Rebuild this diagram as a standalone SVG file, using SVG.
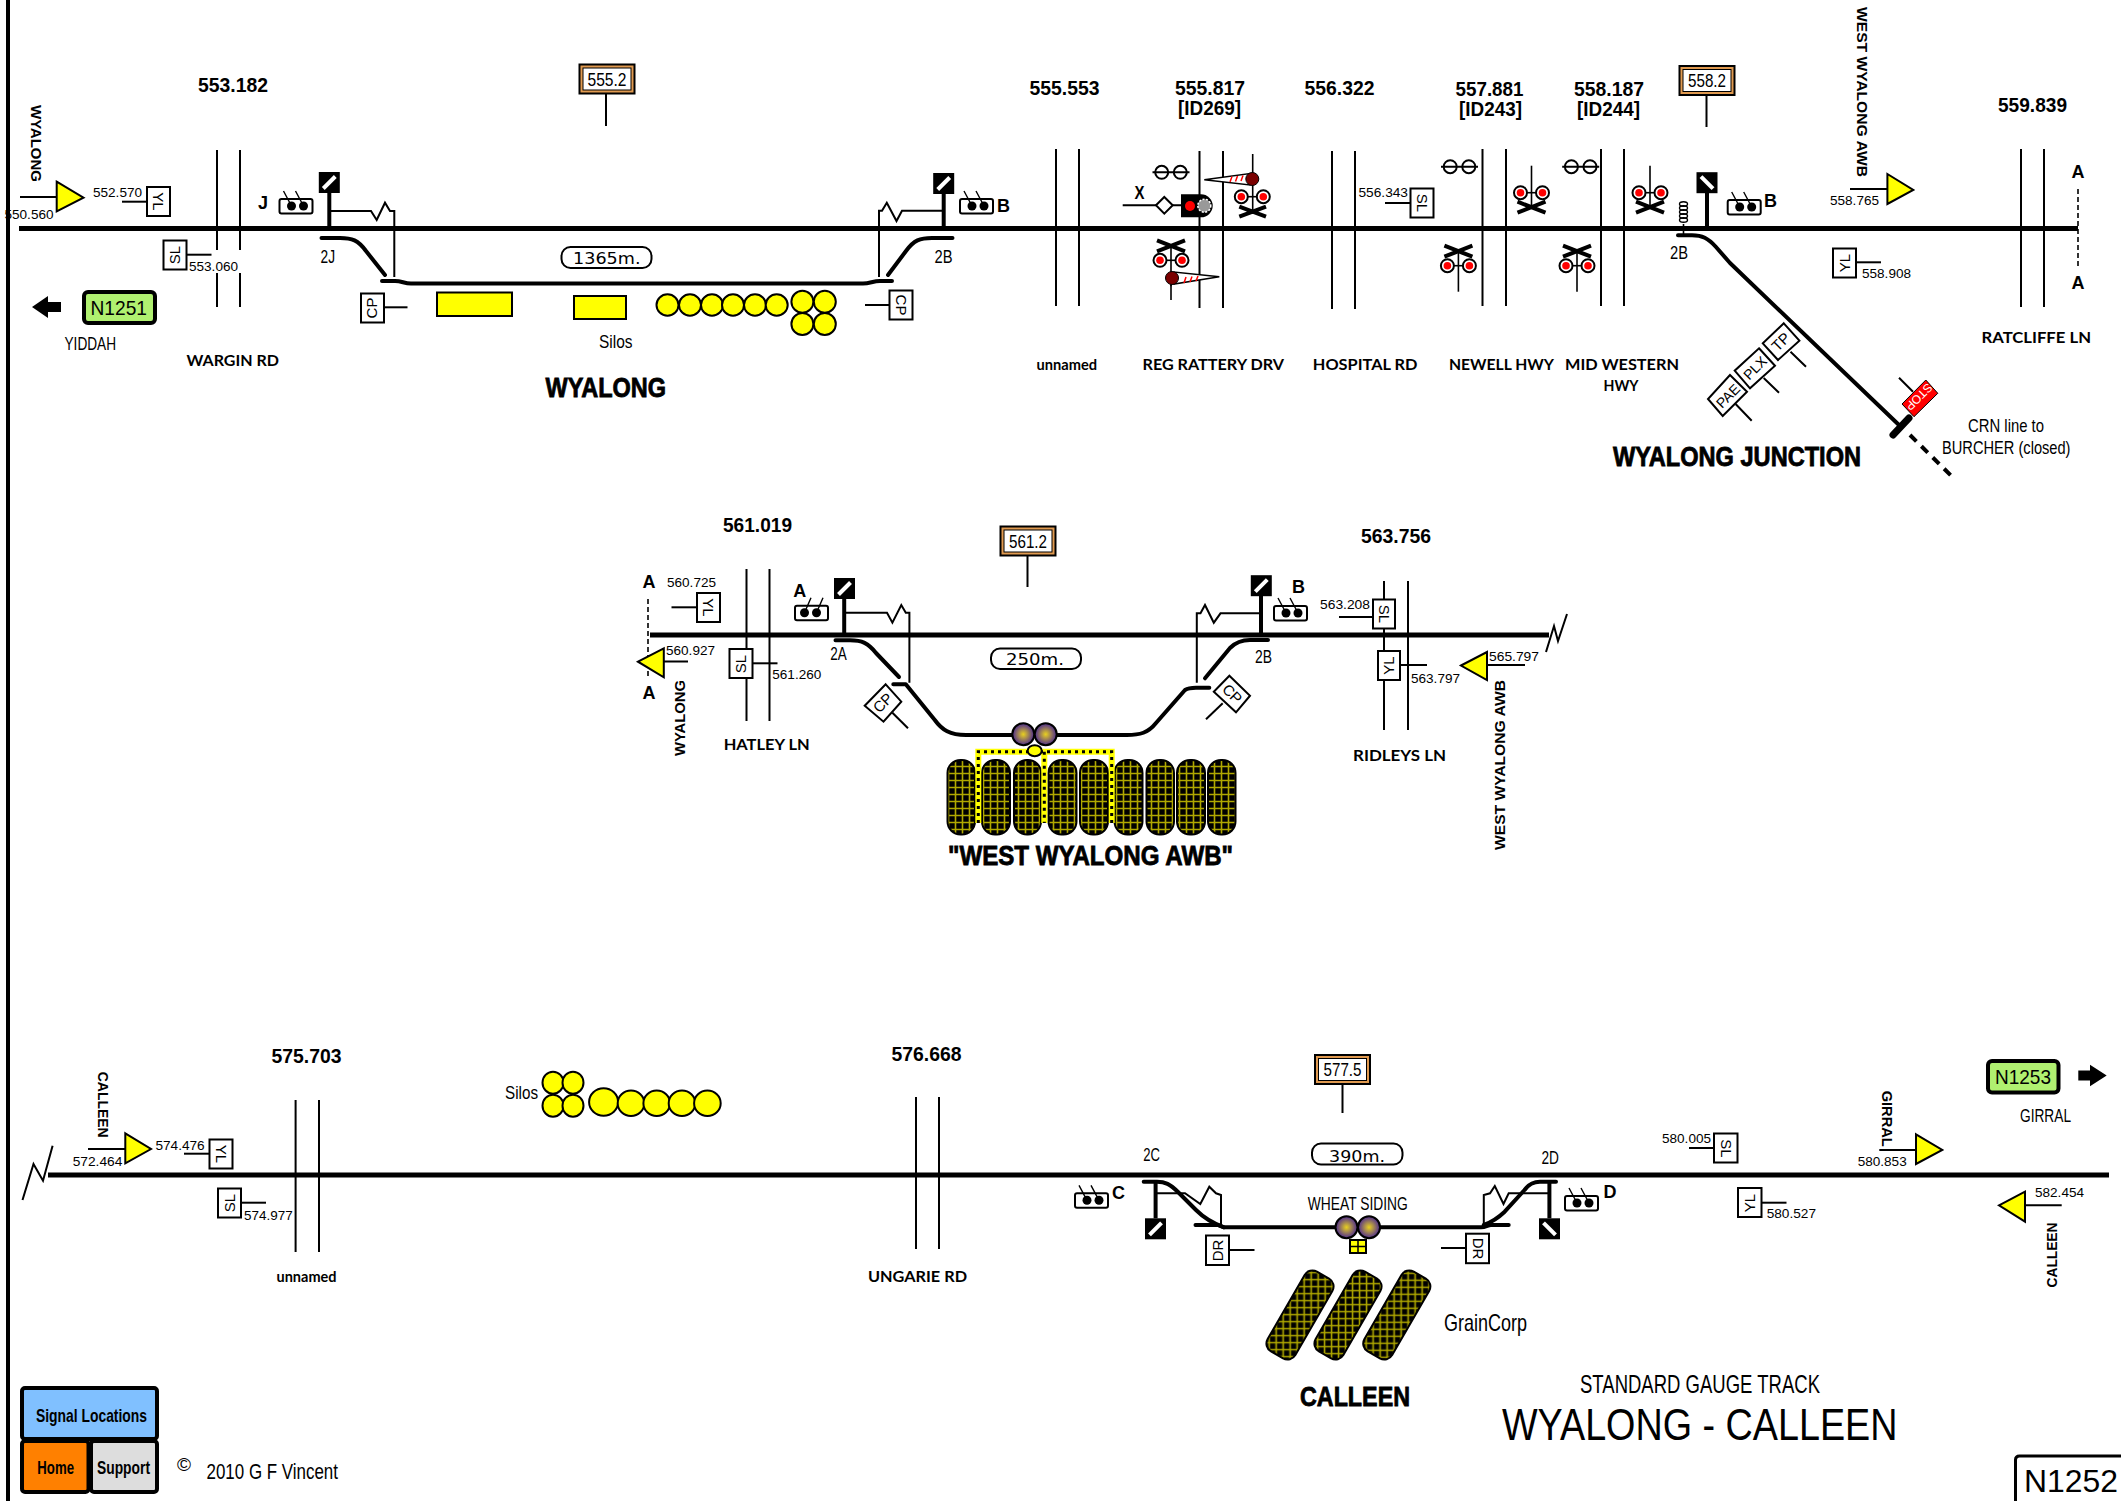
<svg xmlns="http://www.w3.org/2000/svg" xmlns:xlink="http://www.w3.org/1999/xlink" width="2121" height="1501" viewBox="0 0 2121 1501">
<style>
text{fill:#000;font-family:"Liberation Sans",Arial,sans-serif}
.n{font-family:"Liberation Sans Narrow","Liberation Sans",sans-serif;font-size:19px}
.km{font-size:19.4px;font-weight:700}
.s{font-size:13.5px}
.c{font-family:Lato,"Liberation Sans",sans-serif;font-weight:700;font-size:16px}
.v{font-size:15px;font-weight:700;text-anchor:middle}
.h{font-size:27px;font-weight:700;stroke:#000;stroke-width:.8}
.lb{font-size:15px;text-anchor:middle}
.w{font-family:"DejaVu Sans",sans-serif;font-size:15px}
.sb{font-weight:700;font-size:18px}
.trk{fill:none;stroke:#000;stroke-width:5}
.cv{fill:none;stroke:#000;stroke-width:4;stroke-linecap:round;stroke-linejoin:round}
.l{fill:none;stroke:#000;stroke-width:2}
.ltn{fill:none;stroke:#000;stroke-width:1.6}
.m{fill:none;stroke:#000;stroke-width:4}
.brd{fill:#fff;stroke:#000;stroke-width:2}
.pill{fill:#fff;stroke:#000;stroke-width:2}
.tri{fill:#ff0;stroke:#000;stroke-width:2}
.sy{fill:#ff0;stroke:#000;stroke-width:2}
.sl{fill:url(#grid);stroke:#000;stroke-width:2}
.sr{fill:url(#gridr);stroke:#000;stroke-width:2}
.lt{fill:url(#lamp);stroke:#000;stroke-width:2}
.next{fill:#b0f070;stroke:#000;stroke-width:4}
.nav{stroke:#000;stroke-width:4}
</style>
<defs>
<pattern id="grid" width="7" height="7" patternUnits="userSpaceOnUse"><rect width="7" height="7" fill="#000"/><path d="M3.5 0V7M0 3.5H7" stroke="#b0a800" stroke-width="1.6"/></pattern>
<pattern id="gridr" width="7" height="7" patternUnits="userSpaceOnUse" patternTransform="rotate(-30)"><rect width="7" height="7" fill="#000"/><path d="M3.5 0V7M0 3.5H7" stroke="#b0a800" stroke-width="1.6"/></pattern>
<radialGradient id="lamp"><stop offset="0" stop-color="#e8d020"/><stop offset="1" stop-color="#4c2a90"/></radialGradient>
<g id="headF"><rect x="-10.5" y="-10.5" width="21" height="21" fill="#000"/><path d="M-6 6L6-6" stroke="#fff" stroke-width="4"/></g>
<g id="headB"><rect x="-10.5" y="-10.5" width="21" height="21" fill="#000"/><path d="M-6-6L6 6" stroke="#fff" stroke-width="4"/></g>
<g id="indL"><rect x="0" y="0" width="33" height="14.5" rx="2" fill="#fff" stroke="#000" stroke-width="2"/><path d="M4-8L12 7M16-8L24 7" stroke="#000" stroke-width="1.4"/><circle cx="12" cy="7" r="4.5"/><circle cx="24" cy="7" r="4.5"/></g>
<g id="indR"><rect x="0" y="0" width="33" height="14.5" rx="2" fill="#fff" stroke="#000" stroke-width="2"/><path d="M16-8L9.500 7M28-8L21.500 7" stroke="#000" stroke-width="1.4"/><circle cx="9.500" cy="7" r="4.500"/><circle cx="21.500" cy="7" r="4.500"/></g>
<g id="lamps"><path d="M-11 0H11" stroke="#000" stroke-width="1.600"/><circle cx="-11" r="6.500" fill="#fff" stroke="#000" stroke-width="2"/><circle cx="-11" r="3.800" fill="#f00"/><circle cx="11" r="6.500" fill="#fff" stroke="#000" stroke-width="2"/><circle cx="11" r="3.800" fill="#f00"/></g>
<g id="xU"><path d="M0-27V14" stroke="#000" stroke-width="1.600"/><use href="#lamps"/><path d="M-14 9L14 20M-14 20L14 9" stroke="#000" stroke-width="4"/></g>
<g id="xD"><path d="M0-14V26" stroke="#000" stroke-width="1.600"/><use href="#lamps"/><path d="M-14-20L14-9M-14-9L14-20" stroke="#000" stroke-width="4"/></g>
<g id="oo"><path d="M-18.500 0H18.500" stroke="#000" stroke-width="2"/><circle cx="-9.300" r="6.500" fill="none" stroke="#000" stroke-width="2"/><circle cx="9.300" r="6.500" fill="none" stroke="#000" stroke-width="2"/></g>
</defs>
<rect width="2121" height="1501" fill="#fff"/>

<g id="connectors">
<path class="m" d="M8 0V1501" stroke-width="3"/>
<!-- tracks -->
<path class="trk" d="M19 228.500H2078"/>
<path class="trk" d="M650 635H1549"/>
<path class="trk" d="M48 1175H2109"/>
<!-- section 1 crossings -->
<path class="l" d="M217 150V250M217 273V307M240 150V250M240 273V307M1056 149V306M1079 149V306M1199.500 151V308M1223 151V308M1332 151V309M1355 151V309M1482.500 149V306M1506 149V306M1601 149V306M1624 149V306M2021 149V307M2044 149V307"/>
<path class="ltn" d="M2078 189V267" stroke-dasharray="5 3"/>
<!-- section 1 siding -->
<path class="cv" d="M321.500 238H340C352 238 358 240 366 251L385 275"/>
<path class="cv" d="M382 281H395C402 281 404 283.500 411 283.500H863C870 283.500 873 281 880 281H892"/>
<path class="cv" d="M888 275L906 251C914 240 920 238 932 238H952.500"/>
<path class="l" d="M329 211H371L376.700 220L385 202.700L390 211H394.300V277"/>
<path class="l" d="M943.700 210.700H902L896.500 221L886.800 202.700L882 210.700H879V277"/>
<!-- junction -->
<path class="cv" d="M1678 235.300H1692C1702 235.300 1708 238 1716 247L1730 263L1899 425"/>
<path class="trk" style="stroke-width:7;stroke-linecap:round" d="M1893 435L1909 418"/>
<path class="trk" style="stroke-width:4" d="M1910 435L1953.500 478" stroke-dasharray="9 7"/>
<path class="ltn" d="M1683.500 224V235"/>
<!-- section 2 crossings -->
<path class="l" d="M746.500 569V721M769.500 569V721M1384 581V730M1408 581V730"/>
<path class="ltn" d="M648 599V677" stroke-dasharray="5 3"/>
<path class="l" d="M1546 652L1554 626L1558 641L1567 614"/>
<!-- section 2 siding -->
<path class="cv" d="M835.500 640.300H850C862 640.300 868 643 876 653L899 677"/>
<path class="cv" d="M893.300 684.300H905.800L934.800 720C942 730 950 735 966 735H1126.800C1140 735 1148 733 1156 723L1185 690C1188 688 1192 687.700 1196 687.700H1209.300"/>
<path class="cv" d="M1205 678.300L1230 648C1236 642 1242 640 1250 640H1268"/>
<path class="l" d="M844.200 612.700H887L892.400 622.700L901.300 605L905.800 612.700H909.400V682.700"/>
<path class="l" d="M1260.700 613.300H1220.500L1213.800 622.700L1205 605L1200.500 613.300H1196.800V682.700"/>
<!-- section 3 crossings -->
<path class="l" d="M295.600 1100V1252M319 1100V1252M916 1097V1249M939 1097V1249"/>
<path class="l" d="M22.500 1200L33.500 1164L43 1180.700L52.600 1145.700"/>
<!-- section 3 siding -->
<path class="cv" d="M1143.700 1181.700H1157C1165 1181.700 1170 1184 1178 1192L1196 1210C1204 1218 1212 1223 1224 1227.300H1481C1486 1227.300 1488 1225 1491 1225H1508.700"/>
<path class="cv" d="M1195.500 1225H1218L1224 1227.300"/>
<path class="cv" d="M1483.800 1225C1492 1222 1498 1218 1504.700 1211.700L1524.500 1190C1528 1185 1532 1181.700 1540 1181.700H1556"/>
<path class="l" d="M1155.600 1193.300H1185L1200.300 1204L1209.300 1186.700L1216 1193.300L1221 1195V1225"/>
<path class="l" d="M1549.400 1193.300H1508.700L1503.500 1204L1494.800 1186L1490 1193.300L1483.800 1195V1225"/>
</g>

<g id="board-555-2"><path class="l" d="M606 94V126"/><rect x="579.500" y="64.500" width="55" height="29" fill="#e09a50" stroke="#000" stroke-width="2"/><rect x="583" y="68" width="48" height="22" fill="#fff" stroke="#000" stroke-width="1"/><text class="n" x="587.500" y="85.500" textLength="39" lengthAdjust="spacingAndGlyphs">555.2</text></g>
<g id="board-558-2"><path class="l" d="M1706.500 95V127"/><rect x="1679.500" y="66" width="55" height="29" fill="#e09a50" stroke="#000" stroke-width="2"/><rect x="1683" y="69.500" width="48" height="22" fill="#fff" stroke="#000" stroke-width="1"/><text class="n" x="1688" y="87" textLength="38" lengthAdjust="spacingAndGlyphs">558.2</text></g>
<g id="board-561-2"><path class="l" d="M1027.500 556V587"/><rect x="1000.500" y="526.500" width="55" height="29" fill="#e09a50" stroke="#000" stroke-width="2"/><rect x="1004" y="530" width="48" height="22" fill="#fff" stroke="#000" stroke-width="1"/><text class="n" x="1009" y="547.500" textLength="38" lengthAdjust="spacingAndGlyphs">561.2</text></g>
<g id="board-577-5"><path class="l" d="M1342.500 1084V1113"/><rect x="1315" y="1055" width="55" height="29" fill="#e09a50" stroke="#000" stroke-width="2"/><rect x="1318.500" y="1058.500" width="48" height="22" fill="#fff" stroke="#000" stroke-width="1"/><text class="n" x="1323.500" y="1076" textLength="38" lengthAdjust="spacingAndGlyphs">577.5</text></g>

<g id="labels-km">
<text class="km" x="198" y="92" textLength="70" lengthAdjust="spacingAndGlyphs">553.182</text>
<text class="km" x="1029.500" y="95" textLength="70" lengthAdjust="spacingAndGlyphs">555.553</text>
<text class="km" x="1175" y="95" textLength="70" lengthAdjust="spacingAndGlyphs">555.817</text>
<text class="km" x="1178" y="115" textLength="63" lengthAdjust="spacingAndGlyphs">[ID269]</text>
<text class="km" x="1304.500" y="95" textLength="70" lengthAdjust="spacingAndGlyphs">556.322</text>
<text class="km" x="1455.500" y="96" textLength="68" lengthAdjust="spacingAndGlyphs">557.881</text>
<text class="km" x="1459" y="116" textLength="63" lengthAdjust="spacingAndGlyphs">[ID243]</text>
<text class="km" x="1574" y="96" textLength="70" lengthAdjust="spacingAndGlyphs">558.187</text>
<text class="km" x="1577" y="116" textLength="63" lengthAdjust="spacingAndGlyphs">[ID244]</text>
<text class="km" x="1998" y="112" textLength="69" lengthAdjust="spacingAndGlyphs">559.839</text>
<text class="km" x="723" y="532" textLength="69" lengthAdjust="spacingAndGlyphs">561.019</text>
<text class="km" x="1361" y="543" textLength="70" lengthAdjust="spacingAndGlyphs">563.756</text>
<text class="km" x="271.500" y="1063" textLength="70" lengthAdjust="spacingAndGlyphs">575.703</text>
<text class="km" x="891.500" y="1061" textLength="70" lengthAdjust="spacingAndGlyphs">576.668</text>
</g>

<g id="div-wyalong-w"><path class="l" d="M20 197H57"/><polygon class="tri" points="56.700,181.700 83.500,197.700 56.700,211.300"/><text class="s" x="4.500" y="219" textLength="49" lengthAdjust="spacingAndGlyphs">550.560</text><text class="v" transform="translate(31,143.500) rotate(90)" textLength="77" lengthAdjust="spacingAndGlyphs">WYALONG</text></g>
<g id="yl-552"><path class="l" d="M122 201.700H147"/><rect class="brd" x="147" y="187" width="23" height="29"/><text class="lb" transform="translate(153,201.500) rotate(90)">YL</text><text class="s" x="93" y="197" textLength="49" lengthAdjust="spacingAndGlyphs">552.570</text></g>
<g id="sl-553"><path class="l" d="M186 254.700H211.500"/><rect class="brd" x="163.500" y="240.500" width="23" height="29"/><text class="lb" transform="translate(180,255) rotate(-90)">SL</text><text class="s" x="189" y="271" textLength="49" lengthAdjust="spacingAndGlyphs">553.060</text></g>
<g id="sig-j"><path class="m" d="M329.300 193V228"/><use href="#headF" x="329.300" y="182.500"/><use href="#indL" x="279.500" y="199"/><text class="sb" x="258" y="209">J</text><text class="n" x="320.500" y="262.700" textLength="14.500" lengthAdjust="spacingAndGlyphs">2J</text></g>
<g id="sig-b1"><path class="m" d="M943.700 194V228"/><use href="#headF" x="943.700" y="183.500"/><use href="#indL" x="960" y="199"/><text class="sb" x="997" y="211.700">B</text><text class="n" x="934.500" y="262.700" textLength="18" lengthAdjust="spacingAndGlyphs">2B</text></g>
<g id="cp-w"><path class="l" d="M384 307.300H407.500"/><rect class="brd" x="361" y="293.500" width="23" height="29"/><text class="lb" transform="translate(377,308) rotate(-90)">CP</text></g>
<g id="cp-e"><path class="l" d="M865 305H889.500"/><rect class="brd" x="889.500" y="290.500" width="23" height="29"/><text class="lb" transform="translate(896,305) rotate(90)">CP</text></g>
<g id="pill-1365"><rect class="pill" x="561.500" y="247" width="90" height="21" rx="9"/><text class="w" x="573" y="264" textLength="67.500" lengthAdjust="spacingAndGlyphs">1365m.</text></g>
<g id="silos-wyalong">
<rect class="sy" x="437" y="292.500" width="75" height="23.500"/><rect class="sy" x="574" y="296" width="52" height="23"/>
<ellipse class="sy" cx="667.500" cy="305" rx="11" ry="10.700"/><ellipse class="sy" cx="690" cy="305" rx="11" ry="10.700"/><ellipse class="sy" cx="712" cy="305" rx="11" ry="10.700"/><ellipse class="sy" cx="733" cy="305" rx="11" ry="10.700"/><ellipse class="sy" cx="755" cy="305" rx="11" ry="10.700"/><ellipse class="sy" cx="776.700" cy="305" rx="11" ry="10.700"/>
<ellipse class="sy" cx="802.400" cy="301.700" rx="11" ry="11"/><ellipse class="sy" cx="824.800" cy="301.700" rx="11" ry="11"/><ellipse class="sy" cx="802.400" cy="324" rx="11" ry="11"/><ellipse class="sy" cx="824.800" cy="324" rx="11" ry="11"/>
<text class="n" x="599" y="348" textLength="33.500" lengthAdjust="spacingAndGlyphs">Silos</text></g>
<g id="next-n1251"><rect class="next" x="84" y="292" width="71" height="31" rx="4"/><text x="90.500" y="315" font-size="21" textLength="56.500" lengthAdjust="spacingAndGlyphs">N1251</text><polygon points="32,307 48,296 48,302 61,302 61,312 48,312 48,318"/><text class="n" x="64.500" y="350" textLength="51.500" lengthAdjust="spacingAndGlyphs">YIDDAH</text></g>
<g id="labels-roads-1">
<text class="c" x="186.500" y="366" textLength="92.500" lengthAdjust="spacingAndGlyphs">WARGIN RD</text>
<text class="c" x="1036.500" y="370" textLength="60.500" lengthAdjust="spacingAndGlyphs">unnamed</text>
<text class="c" x="1142.500" y="370" textLength="141.500" lengthAdjust="spacingAndGlyphs">REG RATTERY DRV</text>
<text class="c" x="1312.800" y="370" textLength="104.600" lengthAdjust="spacingAndGlyphs">HOSPITAL RD</text>
<text class="c" x="1449" y="370" textLength="105" lengthAdjust="spacingAndGlyphs">NEWELL HWY</text>
<text class="c" x="1565" y="370" textLength="114" lengthAdjust="spacingAndGlyphs">MID WESTERN</text>
<text class="c" x="1603.500" y="390.700" textLength="35" lengthAdjust="spacingAndGlyphs">HWY</text>
<text class="c" x="1981.500" y="343.300" textLength="109.500" lengthAdjust="spacingAndGlyphs">RATCLIFFE LN</text>
</g>
<text class="h" id="title-wyalong" x="545.500" y="396.500" textLength="120.500" lengthAdjust="spacingAndGlyphs">WYALONG</text>

<g id="crossing-555-817">
<use href="#oo" x="1171" y="172.300"/>
<text class="n" x="1134.500" y="198.700" font-weight="700" textLength="10" lengthAdjust="spacingAndGlyphs">X</text>
<path class="l" d="M1122.700 205.300H1156M1172.700 205.300H1181"/>
<polygon class="brd" points="1156,205.300 1164.300,197 1172.700,205.300 1164.300,213.600"/>
<path d="M1181 194.300H1201a11.700 11.500 0 0 1 0 23H1181Z"/>
<circle cx="1190" cy="206" r="5" fill="#f00"/><circle cx="1204.300" cy="205.700" r="6.500" fill="#999" stroke="#fff" stroke-width="1.500" stroke-dasharray="2 1.500"/>
<path class="ltn" d="M1252.700 154V211"/>
<polygon points="1204.300,179.700 1250,173.500 1250,185" fill="#fff" stroke="#000" stroke-width="1.500"/><path d="M1230 182L1232 176.500M1235.500 181.500L1237.500 176M1241 181L1243 175.500" stroke="#f00" stroke-width="1.500"/>
<circle cx="1252.300" cy="179" r="6.500" fill="#7a0000" stroke="#000"/>
<use href="#lamps" x="1252.300" y="196.700"/><path d="M1239.300 206.700L1266 216.700M1239.300 216.700L1266 206.700" stroke="#000" stroke-width="4"/>
<use href="#xD" x="1171" y="260.300"/><path class="ltn" d="M1171 285V300"/>
<polygon points="1219.300,276.700 1174,272 1174,284" fill="#fff" stroke="#000" stroke-width="1.500"/><path d="M1184 283L1186 277M1190 282L1192 276.500M1196 281L1198 276" stroke="#f00" stroke-width="1.500"/>
<circle cx="1172" cy="278" r="6.500" fill="#7a0000" stroke="#000"/>
</g>
<g id="sl-556"><path class="l" d="M1385 203H1410.500"/><rect class="brd" x="1410.500" y="188.500" width="23" height="29"/><text class="lb" transform="translate(1417,203) rotate(90)">SL</text><text class="s" x="1358.500" y="196.700" textLength="49.500" lengthAdjust="spacingAndGlyphs">556.343</text></g>
<g id="crossing-557-881"><use href="#oo" x="1459.500" y="166.700"/><use href="#xU" x="1531.500" y="192.700"/><use href="#xD" x="1458.400" y="265.700"/></g>
<g id="crossing-558-187"><use href="#oo" x="1580.700" y="166.700"/><use href="#xU" x="1650" y="192.700"/><use href="#xD" x="1577" y="265.700"/></g>
<g id="sig-b-jct"><path class="m" d="M1707 193V228"/><use href="#headB" x="1707" y="182.700"/><use href="#indL" x="1727.700" y="200"/><text class="sb" x="1764" y="206.700">B</text>
<g fill="none" stroke="#000" stroke-width="1.400"><ellipse cx="1683.500" cy="204" rx="4" ry="2.200"/><ellipse cx="1683.500" cy="208" rx="4" ry="2.200"/><ellipse cx="1683.500" cy="212" rx="4" ry="2.200"/><ellipse cx="1683.500" cy="216" rx="4" ry="2.200"/><ellipse cx="1683.500" cy="220" rx="4" ry="2.200"/></g>
<text class="n" x="1670" y="259" textLength="18" lengthAdjust="spacingAndGlyphs">2B</text></g>
<g id="div-awb"><path class="l" d="M1850 189H1887.500"/><polygon class="tri" points="1887.400,174 1913.300,190 1887.400,204"/><text class="s" x="1830" y="205" textLength="49" lengthAdjust="spacingAndGlyphs">558.765</text><text class="v" transform="translate(1857,92) rotate(90)" textLength="170" lengthAdjust="spacingAndGlyphs">WEST WYALONG AWB</text></g>
<g id="yl-558"><path class="l" d="M1855.700 262.300H1881"/><rect class="brd" x="1833" y="248.500" width="23" height="29"/><text class="lb" transform="translate(1849.500,263) rotate(-90)">YL</text><text class="s" x="1862" y="278.300" textLength="49" lengthAdjust="spacingAndGlyphs">558.908</text></g>
<g id="a-marks-1"><text class="sb" x="2071.500" y="178.300">A</text><text class="sb" x="2071.500" y="289.300">A</text></g>
<g id="boards-jct">
<path class="l" d="M1790.500 351.700L1806 366.700M1763.700 378L1779 392.700M1735.600 404L1751.700 420.700M1899 377.700L1913 391.700"/>
<polygon class="brd" points="1783.800,323.300 1799.400,340.700 1778,360 1762.800,343.300"/><text class="lb" transform="translate(1784.500,345.500) rotate(-45)">TP</text>
<polygon class="brd" points="1759,348.300 1775,365.700 1750,388.300 1734.700,370.700"/><text class="lb" style="font-size:14px" transform="translate(1758.500,371.500) rotate(-45)">PLX</text>
<polygon class="brd" points="1730,375 1747,391.700 1722.700,416 1708,399"/><text class="lb" style="font-size:14px" transform="translate(1731.500,399.500) rotate(-45)">PAE</text>
<polygon points="1925.800,380 1937.800,393.300 1914,416.700 1902,404" fill="#f00" stroke="#000" stroke-width="1"/><text class="lb" style="fill:#fff;font-size:12px" transform="translate(1916,394) rotate(135)">STOP</text>
</g>
<text class="n" id="lbl-crn1" x="1968" y="432.300" textLength="76" lengthAdjust="spacingAndGlyphs">CRN line to</text>
<text class="n" id="lbl-crn2" x="1942" y="454" textLength="128.500" lengthAdjust="spacingAndGlyphs">BURCHER (closed)</text>
<text class="h" id="title-jct" x="1613" y="465.500" textLength="248" lengthAdjust="spacingAndGlyphs">WYALONG JUNCTION</text>

<!-- section 2 -->
<g id="a-marks-2"><text class="sb" x="642.500" y="588.300">A</text><text class="sb" x="642.500" y="699.300">A</text></g>
<g id="yl-560"><path class="l" d="M671.500 607.300H697"/><rect class="brd" x="697" y="593" width="23" height="29"/><text class="lb" transform="translate(703,607.500) rotate(90)">YL</text><text class="s" x="667" y="586.700" textLength="49" lengthAdjust="spacingAndGlyphs">560.725</text></g>
<g id="div-wyalong-2"><path class="l" d="M664 661.500H688"/><polygon class="tri" points="638,661.700 663.800,648.300 663.800,677.300"/><text class="s" x="666" y="655" textLength="49" lengthAdjust="spacingAndGlyphs">560.927</text><text class="v" transform="translate(684.500,718) rotate(-90)" textLength="76" lengthAdjust="spacingAndGlyphs">WYALONG</text></g>
<g id="sl-561"><path class="l" d="M752.700 663.300H777.500"/><rect class="brd" x="729.500" y="649" width="23" height="29"/><text class="lb" transform="translate(746,664) rotate(-90)">SL</text><text class="s" x="772.300" y="679" textLength="49" lengthAdjust="spacingAndGlyphs">561.260</text></g>
<text class="c" id="lbl-hatley" x="723.700" y="749.500" textLength="86" lengthAdjust="spacingAndGlyphs">HATLEY LN</text>
<g id="sig-a"><path class="m" d="M844.200 599V634"/><use href="#headF" x="844.500" y="588.500"/><use href="#indR" x="795" y="605.700"/><text class="sb" x="793.300" y="596.700">A</text><text class="n" x="830.300" y="660" textLength="16.500" lengthAdjust="spacingAndGlyphs">2A</text></g>
<g id="sig-b2"><path class="m" d="M1261 596V634"/><use href="#headF" x="1261.300" y="585.700"/><use href="#indL" x="1274" y="606"/><text class="sb" x="1292" y="593">B</text><text class="n" x="1255" y="662.700" textLength="17" lengthAdjust="spacingAndGlyphs">2B</text></g>
<g id="pill-250"><rect class="pill" x="991" y="648.500" width="90" height="20.500" rx="9"/><text class="w" x="1006" y="665" textLength="58" lengthAdjust="spacingAndGlyphs">250m.</text></g>
<g id="cp-2a"><path class="l" d="M892.400 712.700L908 728.300"/><polygon class="brd" points="885.700,684.300 901.300,701.700 883.500,721.700 864.700,705.700"/><text class="lb" transform="translate(886.500,706.500) rotate(-45)">CP</text></g>
<g id="cp-2b"><path class="l" d="M1222.700 703.300L1206 719.300"/><polygon class="brd" points="1229.400,675.700 1250,695.700 1236,712.300 1213.800,691.700"/><text class="lb" transform="translate(1228.500,697.500) rotate(45)">CP</text></g>
<g id="silos-awb">
<rect class="sl" x="947.500" y="760" width="27.500" height="74.500" rx="13"/><rect class="sl" x="982" y="760" width="28" height="74.500" rx="13"/><rect class="sl" x="1014" y="760" width="27" height="74.500" rx="13"/><rect class="sl" x="1048.500" y="760" width="28" height="74.500" rx="13"/><rect class="sl" x="1080" y="760" width="28" height="74.500" rx="13"/><rect class="sl" x="1114.500" y="760" width="28" height="74.500" rx="13"/><rect class="sl" x="1146.500" y="760" width="27.500" height="74.500" rx="13"/><rect class="sl" x="1177" y="760" width="28" height="74.500" rx="13"/><rect class="sl" x="1208" y="760" width="27.500" height="74.500" rx="13"/>
<path d="M978.300 823V751.700H1111.700V823M1044.300 751.700V823" fill="none" stroke="#ff0" stroke-width="6"/>
<path d="M978.300 823V751.700H1111.700V823M1044.300 751.700V823" fill="none" stroke="#000" stroke-width="3" stroke-dasharray="3 4"/>
<circle class="lt" cx="1023.300" cy="734.300" r="11"/><circle class="lt" cx="1045.700" cy="734.300" r="11"/>
<ellipse class="sy" cx="1034.700" cy="750.700" rx="7" ry="5.500"/>
</g>
<text class="h" id="title-awb" x="948" y="864.500" textLength="285" lengthAdjust="spacingAndGlyphs">"WEST WYALONG AWB"</text>
<g id="sl-563"><path class="l" d="M1339 617H1373"/><rect class="brd" x="1373" y="599.500" width="22" height="29"/><text class="lb" transform="translate(1379,614) rotate(90)">SL</text><text class="s" x="1320" y="609" textLength="50" lengthAdjust="spacingAndGlyphs">563.208</text></g>
<g id="yl-563"><path class="l" d="M1400 665H1427"/><rect class="brd" x="1378" y="651" width="22" height="29"/><text class="lb" transform="translate(1394,665.500) rotate(-90)">YL</text><text class="s" x="1411" y="683" textLength="49" lengthAdjust="spacingAndGlyphs">563.797</text></g>
<g id="div-awb-2"><path class="l" d="M1487 665H1525"/><polygon class="tri" points="1461,665.500 1487,652 1487,680"/><text class="s" x="1489" y="661" textLength="50" lengthAdjust="spacingAndGlyphs">565.797</text><text class="v" transform="translate(1505,765) rotate(-90)" textLength="170" lengthAdjust="spacingAndGlyphs">WEST WYALONG AWB</text></g>
<text class="c" id="lbl-ridleys" x="1353" y="761" textLength="93" lengthAdjust="spacingAndGlyphs">RIDLEYS LN</text>

<!-- section 3 -->
<g id="div-calleen-w"><path class="l" d="M88 1149H125.500"/><polygon class="tri" points="125.300,1133.300 151,1149 125.300,1163.300"/><text class="s" x="72.700" y="1165.500" textLength="49.700" lengthAdjust="spacingAndGlyphs">572.464</text><text class="v" transform="translate(98,1104.700) rotate(90)" textLength="66" lengthAdjust="spacingAndGlyphs">CALLEEN</text></g>
<g id="yl-574"><path class="l" d="M184 1153.700H209.500"/><rect class="brd" x="209.500" y="1139.500" width="23" height="29"/><text class="lb" transform="translate(216,1154) rotate(90)">YL</text><text class="s" x="155.400" y="1150" textLength="49.300" lengthAdjust="spacingAndGlyphs">574.476</text></g>
<g id="sl-574"><path class="l" d="M241 1202.700H266"/><rect class="brd" x="218" y="1188.500" width="23" height="29"/><text class="lb" transform="translate(234.500,1203) rotate(-90)">SL</text><text class="s" x="244" y="1220" textLength="48.700" lengthAdjust="spacingAndGlyphs">574.977</text></g>
<text class="c" id="lbl-unnamed2" x="276.500" y="1282" textLength="60" lengthAdjust="spacingAndGlyphs">unnamed</text>
<text class="c" id="lbl-ungarie" x="868" y="1282" textLength="99" lengthAdjust="spacingAndGlyphs">UNGARIE RD</text>
<g id="silos-mid">
<text class="n" x="505" y="1098.500" textLength="33" lengthAdjust="spacingAndGlyphs">Silos</text>
<ellipse class="sy" cx="553" cy="1082.700" rx="10.500" ry="11"/><ellipse class="sy" cx="573" cy="1082.700" rx="10.500" ry="11"/><ellipse class="sy" cx="553" cy="1105.700" rx="10.500" ry="11"/><ellipse class="sy" cx="573" cy="1105.700" rx="10.500" ry="11"/>
<ellipse class="sy" cx="603.600" cy="1102" rx="14.500" ry="13.700"/><ellipse class="sy" cx="631" cy="1103.300" rx="13.300" ry="12.700"/><ellipse class="sy" cx="656.700" cy="1103.300" rx="13.300" ry="12.700"/><ellipse class="sy" cx="682" cy="1103.300" rx="13.300" ry="12.700"/><ellipse class="sy" cx="707.400" cy="1103.300" rx="13.300" ry="12.700"/>
</g>
<g id="pill-390"><rect class="pill" x="1312" y="1143.500" width="90.500" height="21" rx="9"/><text class="w" x="1329" y="1161.700" textLength="56" lengthAdjust="spacingAndGlyphs">390m.</text></g>
<g id="sig-c"><path class="m" d="M1155.600 1181.700V1218.300"/><use href="#headF" x="1155.500" y="1228.800"/><use href="#indL" x="1075" y="1193.300"/><text class="sb" x="1112" y="1199.300">C</text><text class="n" x="1143.300" y="1160.500" textLength="16.700" lengthAdjust="spacingAndGlyphs">2C</text></g>
<g id="sig-d"><path class="m" d="M1549.400 1181.700V1218.300"/><use href="#headB" x="1549.500" y="1228.800"/><use href="#indL" x="1565" y="1196"/><text class="sb" x="1603.600" y="1198.300">D</text><text class="n" x="1541.500" y="1163.500" textLength="17.500" lengthAdjust="spacingAndGlyphs">2D</text></g>
<g id="dr-w"><path class="l" d="M1229 1250H1254.500"/><rect class="brd" x="1206" y="1235.500" width="23" height="29.500"/><text class="lb" transform="translate(1222.500,1250.500) rotate(-90)">DR</text></g>
<g id="dr-e"><path class="l" d="M1441 1248H1466"/><rect class="brd" x="1466" y="1233.700" width="23" height="29.500"/><text class="lb" transform="translate(1472.500,1248.500) rotate(90)">DR</text></g>
<g id="wheat-siding">
<text class="n" x="1307.800" y="1209.500" textLength="100" lengthAdjust="spacingAndGlyphs">WHEAT SIDING</text>
<circle class="lt" cx="1346.500" cy="1227.300" r="11"/><circle class="lt" cx="1369" cy="1227.300" r="11"/>
<rect class="sy" x="1350" y="1240" width="16" height="13"/><path d="M1358 1240V1253M1350 1246.500H1366" stroke="#000" stroke-width="1.500"/>
<rect class="sr" x="1284" y="1269" width="32" height="92" rx="9" transform="rotate(30 1300 1315)"/>
<rect class="sr" x="1332" y="1269" width="32" height="92" rx="9" transform="rotate(30 1348 1315)"/>
<rect class="sr" x="1380.800" y="1269" width="32" height="92" rx="9" transform="rotate(30 1396.800 1315)"/>
<text class="n" style="font-size:24px" x="1444" y="1331" textLength="83" lengthAdjust="spacingAndGlyphs">GrainCorp</text>
</g>
<text class="h" id="title-calleen" x="1300" y="1405.500" textLength="110" lengthAdjust="spacingAndGlyphs">CALLEEN</text>
<g id="sl-580"><path class="l" d="M1689 1148H1714"/><rect class="brd" x="1714" y="1133.500" width="23.500" height="29"/><text class="lb" transform="translate(1720.500,1148.500) rotate(90)">SL</text><text class="s" x="1662" y="1143.300" textLength="49" lengthAdjust="spacingAndGlyphs">580.005</text></g>
<g id="yl-580"><path class="l" d="M1761.500 1202.700H1786.500"/><rect class="brd" x="1738" y="1188" width="23.500" height="29"/><text class="lb" transform="translate(1755,1203) rotate(-90)">YL</text><text class="s" x="1766.700" y="1218.300" textLength="49.300" lengthAdjust="spacingAndGlyphs">580.527</text></g>
<g id="div-girral"><path class="l" d="M1879.300 1150H1916"/><polygon class="tri" points="1916,1134.300 1942.300,1150 1916,1164"/><text class="s" x="1857.700" y="1166" textLength="49" lengthAdjust="spacingAndGlyphs">580.853</text><text class="v" transform="translate(1882,1118.700) rotate(90)" textLength="56" lengthAdjust="spacingAndGlyphs">GIRRAL</text></g>
<g id="next-n1253"><rect class="next" x="1988" y="1061" width="70.500" height="31.500" rx="4"/><text x="1995" y="1084" font-size="21" textLength="56" lengthAdjust="spacingAndGlyphs">N1253</text><polygon points="2106.700,1075.500 2090,1064.800 2090,1070.500 2078.300,1070.500 2078.300,1080.500 2090,1080.500 2090,1086.200"/><text class="n" x="2020" y="1121.500" textLength="51" lengthAdjust="spacingAndGlyphs">GIRRAL</text></g>
<g id="div-calleen-e"><path class="l" d="M2025 1205.300H2061.700"/><polygon class="tri" points="1999,1205.300 2025,1191.700 2025,1221.700"/><text class="s" x="2035" y="1197.300" textLength="49" lengthAdjust="spacingAndGlyphs">582.454</text><text class="v" transform="translate(2057,1255) rotate(-90)" textLength="65" lengthAdjust="spacingAndGlyphs">CALLEEN</text></g>
<g id="title-block">
<text class="n" style="font-size:26px" x="1580" y="1393.300" textLength="240" lengthAdjust="spacingAndGlyphs">STANDARD GAUGE TRACK</text>
<text class="n" style="font-size:44px" x="1502" y="1440" textLength="395.500" lengthAdjust="spacingAndGlyphs">WYALONG - CALLEEN</text>
<path d="M2015.500 1501V1460Q2015.500 1456 2019.500 1456H2121" fill="#fff" stroke="#000" stroke-width="3"/>
<text x="2024" y="1491.700" font-size="32" textLength="94" lengthAdjust="spacingAndGlyphs">N1252</text>
</g>
<g id="nav-signal"><rect class="nav" x="22" y="1388" width="135" height="51" rx="3" fill="#80c0ff"/><text class="n" x="36" y="1421.500" font-weight="700" textLength="111" lengthAdjust="spacingAndGlyphs">Signal Locations</text></g>
<g id="nav-home"><rect class="nav" x="22" y="1441" width="66.500" height="51" rx="3" fill="#ff8000"/><text class="n" x="37.300" y="1474" font-weight="700" textLength="36.700" lengthAdjust="spacingAndGlyphs">Home</text></g>
<g id="nav-support"><rect class="nav" x="91" y="1441" width="66" height="51" rx="3" fill="#ddd"/><text class="n" x="97" y="1474" font-weight="700" textLength="53" lengthAdjust="spacingAndGlyphs">Support</text></g>
<text id="copy1" x="177" y="1471" font-size="18" textLength="14" lengthAdjust="spacingAndGlyphs">©</text>
<text class="n" id="copy2" style="font-size:22px" x="206.500" y="1478.500" textLength="131.500" lengthAdjust="spacingAndGlyphs">2010 G F Vincent</text>
</svg>
